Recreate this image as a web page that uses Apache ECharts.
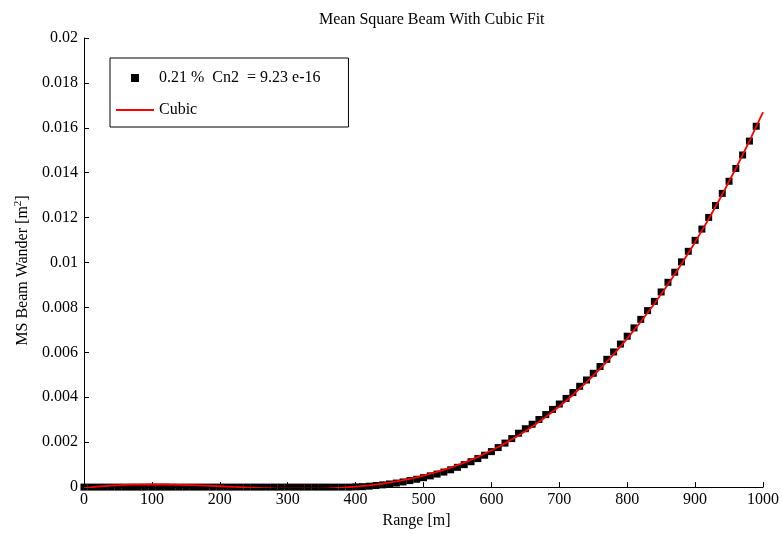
<!DOCTYPE html>
<html>
<head>
<meta charset="utf-8">
<script src="https://cdn.jsdelivr.net/npm/echarts@6/dist/echarts.min.js"></script>
<style>
html,body{margin:0;padding:0;background:#fff;}
#chart{width:782px;height:534px;}
</style>
</head>
<body>
<div id="chart"></div>
<script>
// Measured points (range in m, every 10 m)
var rangeValues = [0,10,20,30,40,50,60,70,80,90,100,110,120,130,140,150,160,170,180,190,200,210,220,230,240,250,260,270,280,290,300,310,320,330,340,350,360,370,380,390,400,410,420,430,440,450,460,470,480,490,500,510,520,530,540,550,560,570,580,590,600,610,620,630,640,650,660,670,680,690,700,710,720,730,740,750,760,770,780,790,800,810,820,830,840,850,860,870,880,890,900,910,920,930,940,950,960,970,980,990];
var wanderValues = [0,0,0,0,0,0,0,0,0,0,0,0,0,0,0,0,0,0,0,0,0,0,0,0,0,0,0,0,0,0,0,0,0,0,0,0,0,0,0,0,
  0.00001,0.00002,0.00004,0.00007,0.0001,0.00014,0.00018,0.00023,0.00029,0.00035,
  0.00042,0.0005,0.00058,0.00067,0.00077,0.00088,0.001,0.00113,0.00127,0.00142,
  0.00158,0.00176,0.00196,0.00216,0.0024,0.0026,0.0028,0.00301,0.00323,0.00346,
  0.0037,0.00395,0.00421,0.00449,0.00477,0.00507,0.00537,0.00569,0.00602,0.00637,
  0.00672,0.00709,0.00747,0.00786,0.00827,0.00869,0.00912,0.00957,0.01003,0.0105,
  0.01099,0.01149,0.01201,0.01254,0.01308,0.01362,0.01419,0.01479,0.01541,0.01607];

// Cubic fit curve (every 20 m)
var fitRange = [0,20,40,60,80,100,120,140,160,180,200,220,240,260,280,300,320,340,360,380,400,420,440,460,480,500,520,540,560,580,600,620,640,660,680,700,720,740,760,780,800,820,840,860,880,900,920,940,960,980,1000];
var fitValues = [-0.0000423,0.0000197,0.0000651,0.0000956,0.000113,0.000119,0.000115,0.000103,0.0000854,0.000063,0.0000378,0.0000117,-0.0000138,-0.0000368,-0.0000556,-0.0000685,-0.0000737,-0.0000695,-0.0000542,-0.000026,0.0000167,0.0000759,0.000153,0.00025,0.000369,0.00051,0.000677,0.000871,0.001093,0.001345,0.00163,0.001948,0.002301,0.002692,0.003121,0.003591,0.004104,0.00466,0.005262,0.005912,0.006612,0.007362,0.008165,0.009023,0.009937,0.010908,0.01194,0.013033,0.014189,0.01541,0.016698];

var xTicks = [0,100,200,300,400,500,600,700,800,900,1000];
var yTicks = [0,0.002,0.004,0.006,0.008,0.01,0.012,0.014,0.016,0.018,0.02];

var seriesNames = ['0.21 %  Cn2  = 9.23 e-16', 'Cubic'];
var titleText = 'Mean Square Beam With Cubic Fit';

var FONT = 'Liberation Serif, Times New Roman, serif';

var scatterData = rangeValues.map(function (r, i) { return [r, wanderValues[i]]; });
var fitData = fitRange.map(function (r, i) { return [r, fitValues[i]]; });

var chart = echarts.init(document.getElementById('chart'), null, {renderer: 'canvas'});
chart.setOption({
  animation: false,
  backgroundColor: '#fff',
  textStyle: {fontFamily: FONT},
  title: {
    text: titleText,
    left: 314,
    top: 7,
    textStyle: {fontFamily: FONT, fontSize: 16, fontWeight: 'normal', color: '#000'}
  },
  grid: {left: 84, right: 17, top: 38, bottom: 46, containLabel: false},
  legend: {
    orient: 'vertical',
    left: 110,
    top: 58,
    padding: [12, 28, 9, 6],
    itemWidth: 38,
    itemHeight: 8,
    itemGap: 16,
    borderColor: '#000',
    borderWidth: 1,
    backgroundColor: '#fff',
    textStyle: {fontFamily: FONT, fontSize: 16, color: '#000'},
    data: [
      {name: seriesNames[0], icon: 'path://M0,0h8v8h-8z', itemStyle: {color: '#000', opacity: 1}},
      {name: seriesNames[1], icon: 'path://M0,0h38v2h-38z', itemStyle: {color: '#ff0000'}}
    ]
  },
  xAxis: {
    type: 'value',
    min: xTicks[0],
    max: xTicks[xTicks.length - 1],
    interval: 100,
    name: 'Range [m]',
    nameLocation: 'middle',
    nameGap: 23,
    nameTextStyle: {fontFamily: FONT, fontSize: 16, color: '#000', padding: [0, 14, 0, 0]},
    axisLine: {show: true, onZero: false, lineStyle: {color: '#000', width: 1}},
    axisTick: {show: true, inside: true, length: 5, lineStyle: {color: '#000'}},
    axisLabel: {
      fontFamily: FONT, fontSize: 16, color: '#000', margin: 5,
      formatter: function (v) { return String(v); }
    },
    splitLine: {show: false}
  },
  yAxis: {
    type: 'value',
    min: yTicks[0],
    max: yTicks[yTicks.length - 1],
    interval: 0.002,
    name: '{a|MS Beam Wander [m}{s|2}{a|]}',
    nameLocation: 'middle',
    nameGap: 50,
    nameTextStyle: {
      fontFamily: FONT, fontSize: 16, color: '#000',
      padding: [0, 16, 0, 0],
      rich: {
        a: {fontFamily: FONT, fontSize: 16, color: '#000', lineHeight: 20},
        s: {fontFamily: FONT, fontSize: 11, color: '#000', verticalAlign: 'top', lineHeight: 20}
      }
    },
    axisLine: {show: true, onZero: false, lineStyle: {color: '#000', width: 1}},
    axisTick: {show: true, inside: true, length: 5, lineStyle: {color: '#000'}},
    axisLabel: {
      fontFamily: FONT, fontSize: 16, color: '#000', margin: 6,
      formatter: function (v) { return String(parseFloat(v.toFixed(4))); }
    },
    splitLine: {show: false}
  },
  series: [
    {
      name: seriesNames[0],
      type: 'scatter',
      symbol: 'rect',
      symbolSize: 7,
      clip: false,
      itemStyle: {color: '#000', opacity: 1},
      emphasis: {disabled: true},
      data: scatterData,
      z: 2
    },
    {
      name: seriesNames[1],
      type: 'line',
      showSymbol: false,
      symbol: 'none',
      smooth: false,
      clip: true,
      lineStyle: {color: '#ff0000', width: 1.8},
      itemStyle: {color: '#ff0000'},
      emphasis: {disabled: true},
      data: fitData,
      z: 3
    }
  ]
});
</script>
</body>
</html>
